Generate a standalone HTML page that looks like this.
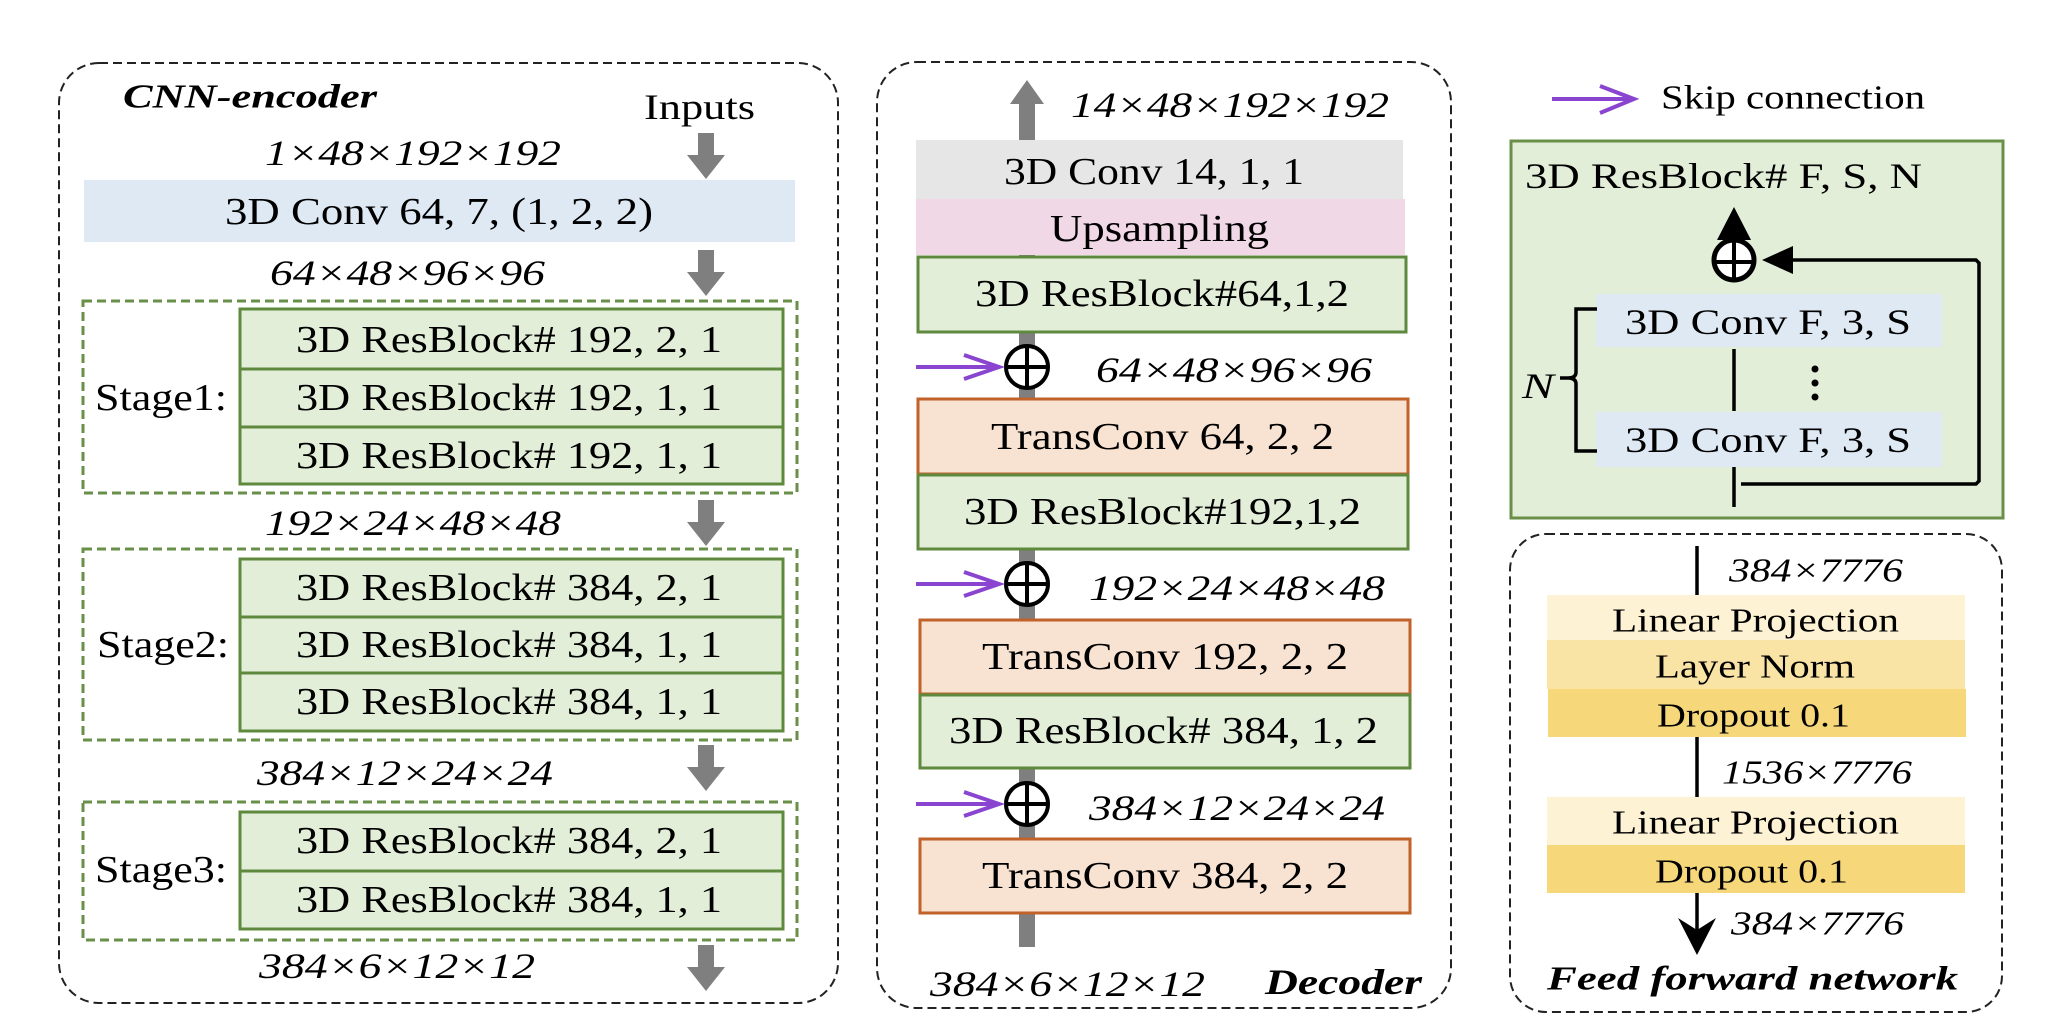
<!DOCTYPE html>
<html><head><meta charset="utf-8"><style>
html,body{margin:0;padding:0;background:#fff;}
svg{display:block;}
text{font-family:"Liberation Serif",serif;fill:#000;}
.it{font-style:italic;}
.bi{font-style:italic;font-weight:bold;}
</style></head><body>
<svg width="2070" height="1018" viewBox="0 0 2070 1018" xmlns="http://www.w3.org/2000/svg">
<defs>
<g id="garrow"><rect x="-8" y="0" width="16" height="26" fill="#7f7f7f"/><polygon points="-19,22 19,22 0,46" fill="#7f7f7f"/></g>
</defs>
<!-- ENCODER -->
<rect x="59" y="63" width="779" height="940" rx="40" fill="none" stroke="#222" stroke-width="2" stroke-dasharray="9,5"/>
<text x="123" y="97" class="bi" font-size="34" dominant-baseline="central" textLength="254" lengthAdjust="spacingAndGlyphs">CNN-encoder</text>
<text x="644" y="107" font-size="36" dominant-baseline="central" textLength="111" lengthAdjust="spacingAndGlyphs">Inputs</text>
<use href="#garrow" x="706" y="133"/>
<text x="265" y="153" class="it" font-size="36" dominant-baseline="central" textLength="296" lengthAdjust="spacingAndGlyphs">1×48×192×192</text>
<rect x="84" y="180" width="711" height="62" fill="#dfe9f4"/>
<text x="225" y="212" font-size="38" dominant-baseline="central" textLength="428" lengthAdjust="spacingAndGlyphs">3D Conv 64, 7, (1, 2, 2)</text>
<use href="#garrow" x="706" y="250"/>
<text x="270" y="273" class="it" font-size="36" dominant-baseline="central" textLength="275" lengthAdjust="spacingAndGlyphs">64×48×96×96</text>
<!-- stage1 -->
<rect x="83" y="301" width="714" height="192" fill="none" stroke="#6a8f48" stroke-width="3" stroke-dasharray="9,5"/>
<g stroke="#5f8a3e" stroke-width="3" fill="#e3eed9">
<rect x="240" y="309" width="543" height="60"/><rect x="240" y="369" width="543" height="58"/><rect x="240" y="427" width="543" height="57"/>
</g>
<text x="95" y="398" font-size="38" dominant-baseline="central" textLength="132" lengthAdjust="spacingAndGlyphs">Stage1:</text>
<text x="296" y="340" font-size="38" dominant-baseline="central" textLength="426" lengthAdjust="spacingAndGlyphs">3D ResBlock# 192, 2, 1</text>
<text x="296" y="398" font-size="38" dominant-baseline="central" textLength="426" lengthAdjust="spacingAndGlyphs">3D ResBlock# 192, 1, 1</text>
<text x="296" y="456" font-size="38" dominant-baseline="central" textLength="426" lengthAdjust="spacingAndGlyphs">3D ResBlock# 192, 1, 1</text>
<use href="#garrow" x="706" y="500"/>
<text x="265" y="523" class="it" font-size="36" dominant-baseline="central" textLength="296" lengthAdjust="spacingAndGlyphs">192×24×48×48</text>
<!-- stage2 -->
<rect x="83" y="549" width="714" height="191" fill="none" stroke="#6a8f48" stroke-width="3" stroke-dasharray="9,5"/>
<g stroke="#5f8a3e" stroke-width="3" fill="#e3eed9">
<rect x="240" y="559" width="543" height="58"/><rect x="240" y="617" width="543" height="56"/><rect x="240" y="673" width="543" height="58"/>
</g>
<text x="97" y="645" font-size="38" dominant-baseline="central" textLength="132" lengthAdjust="spacingAndGlyphs">Stage2:</text>
<text x="296" y="588" font-size="38" dominant-baseline="central" textLength="426" lengthAdjust="spacingAndGlyphs">3D ResBlock# 384, 2, 1</text>
<text x="296" y="645" font-size="38" dominant-baseline="central" textLength="426" lengthAdjust="spacingAndGlyphs">3D ResBlock# 384, 1, 1</text>
<text x="296" y="702" font-size="38" dominant-baseline="central" textLength="426" lengthAdjust="spacingAndGlyphs">3D ResBlock# 384, 1, 1</text>
<use href="#garrow" x="706" y="745"/>
<text x="257" y="773" class="it" font-size="36" dominant-baseline="central" textLength="296" lengthAdjust="spacingAndGlyphs">384×12×24×24</text>
<!-- stage3 -->
<rect x="83" y="802" width="714" height="138" fill="none" stroke="#6a8f48" stroke-width="3" stroke-dasharray="9,5"/>
<g stroke="#5f8a3e" stroke-width="3" fill="#e3eed9">
<rect x="240" y="812" width="543" height="59"/><rect x="240" y="871" width="543" height="58"/>
</g>
<text x="95" y="870" font-size="38" dominant-baseline="central" textLength="132" lengthAdjust="spacingAndGlyphs">Stage3:</text>
<text x="296" y="841" font-size="38" dominant-baseline="central" textLength="426" lengthAdjust="spacingAndGlyphs">3D ResBlock# 384, 2, 1</text>
<text x="296" y="900" font-size="38" dominant-baseline="central" textLength="426" lengthAdjust="spacingAndGlyphs">3D ResBlock# 384, 1, 1</text>
<use href="#garrow" x="706" y="945"/>
<text x="259" y="966" class="it" font-size="36" dominant-baseline="central" textLength="276" lengthAdjust="spacingAndGlyphs">384×6×12×12</text>

<!-- DECODER -->
<rect x="877" y="62" width="574" height="946" rx="40" fill="none" stroke="#222" stroke-width="2" stroke-dasharray="9,5"/>
<rect x="1019" y="100" width="16" height="847" fill="#7f7f7f"/>
<polygon points="1010,104 1044,104 1027,80" fill="#7f7f7f"/>
<text x="1071" y="105" class="it" font-size="36" dominant-baseline="central" textLength="318" lengthAdjust="spacingAndGlyphs">14×48×192×192</text>
<rect x="916" y="140" width="487" height="59" fill="#e6e6e6"/>
<text x="1004" y="172" font-size="38" dominant-baseline="central" textLength="300" lengthAdjust="spacingAndGlyphs">3D Conv 14, 1, 1</text>
<rect x="916" y="199" width="489" height="56" fill="#f0d8e6"/>
<text x="1050" y="229" font-size="38" dominant-baseline="central" textLength="219" lengthAdjust="spacingAndGlyphs">Upsampling</text>
<rect x="918" y="257" width="488" height="75" fill="#e3eed9" stroke="#5f8a3e" stroke-width="3"/>
<text x="975" y="294" font-size="38" dominant-baseline="central" textLength="374" lengthAdjust="spacingAndGlyphs">3D ResBlock#64,1,2</text>
<rect x="918" y="399" width="490" height="75" fill="#f8e3d3" stroke="#c0622a" stroke-width="3"/>
<text x="991" y="437" font-size="38" dominant-baseline="central" textLength="343" lengthAdjust="spacingAndGlyphs">TransConv 64, 2, 2</text>
<rect x="918" y="475" width="490" height="74" fill="#e3eed9" stroke="#5f8a3e" stroke-width="3"/>
<text x="964" y="512" font-size="38" dominant-baseline="central" textLength="397" lengthAdjust="spacingAndGlyphs">3D ResBlock#192,1,2</text>
<rect x="920" y="620" width="490" height="74" fill="#f8e3d3" stroke="#c0622a" stroke-width="3"/>
<text x="982" y="657" font-size="38" dominant-baseline="central" textLength="366" lengthAdjust="spacingAndGlyphs">TransConv 192, 2, 2</text>
<rect x="920" y="695" width="490" height="73" fill="#e3eed9" stroke="#5f8a3e" stroke-width="3"/>
<text x="949" y="731" font-size="38" dominant-baseline="central" textLength="429" lengthAdjust="spacingAndGlyphs">3D ResBlock# 384, 1, 2</text>
<rect x="920" y="839" width="490" height="74" fill="#f8e3d3" stroke="#c0622a" stroke-width="3"/>
<text x="982" y="876" font-size="38" dominant-baseline="central" textLength="366" lengthAdjust="spacingAndGlyphs">TransConv 384, 2, 2</text>
<!-- oplus + skip -->
<g stroke="#000" stroke-width="4" fill="#fff">
<circle cx="1027" cy="367" r="21"/><circle cx="1027" cy="584" r="21"/><circle cx="1027" cy="804" r="21"/>
</g>
<g stroke="#000" stroke-width="4">
<line x1="1006" y1="367" x2="1048" y2="367"/><line x1="1027" y1="346" x2="1027" y2="388"/>
<line x1="1006" y1="584" x2="1048" y2="584"/><line x1="1027" y1="563" x2="1027" y2="605"/>
<line x1="1006" y1="804" x2="1048" y2="804"/><line x1="1027" y1="783" x2="1027" y2="825"/>
</g>
<g stroke="#8a45d0" stroke-width="4" fill="none">
<line x1="916" y1="367" x2="998" y2="367"/><polyline points="964,355 999,367 964,379"/>
<line x1="916" y1="584" x2="998" y2="584"/><polyline points="964,572 999,584 964,596"/>
<line x1="916" y1="804" x2="998" y2="804"/><polyline points="964,792 999,804 964,816"/>
</g>
<text x="1096" y="370" class="it" font-size="36" dominant-baseline="central" textLength="276" lengthAdjust="spacingAndGlyphs">64×48×96×96</text>
<text x="1089" y="588" class="it" font-size="36" dominant-baseline="central" textLength="296" lengthAdjust="spacingAndGlyphs">192×24×48×48</text>
<text x="1089" y="808" class="it" font-size="36" dominant-baseline="central" textLength="296" lengthAdjust="spacingAndGlyphs">384×12×24×24</text>
<text x="930" y="984" class="it" font-size="36" dominant-baseline="central" textLength="275" lengthAdjust="spacingAndGlyphs">384×6×12×12</text>
<text x="1265" y="982" class="bi" font-size="36" dominant-baseline="central" textLength="157" lengthAdjust="spacingAndGlyphs">Decoder</text>

<!-- RIGHT -->
<line x1="1552" y1="99" x2="1632" y2="99" stroke="#8a45d0" stroke-width="4"/>
<polyline points="1600,86 1634,99 1600,113" stroke="#8a45d0" stroke-width="4" fill="none"/>
<text x="1661" y="98" font-size="34" dominant-baseline="central" textLength="264" lengthAdjust="spacingAndGlyphs">Skip connection</text>
<rect x="1511" y="141" width="492" height="377" fill="#e3eed9" stroke="#6a8f48" stroke-width="3"/>
<text x="1525" y="176" font-size="36" dominant-baseline="central" textLength="397" lengthAdjust="spacingAndGlyphs">3D ResBlock# F, S, N</text>
<rect x="1596" y="294" width="346" height="53" fill="#dfe9f4"/>
<rect x="1596" y="412" width="346" height="55" fill="#dfe9f4"/>
<text x="1625" y="322" font-size="36" dominant-baseline="central" textLength="286" lengthAdjust="spacingAndGlyphs">3D Conv F, 3, S</text>
<text x="1625" y="440" font-size="36" dominant-baseline="central" textLength="286" lengthAdjust="spacingAndGlyphs">3D Conv F, 3, S</text>
<g stroke="#000" stroke-width="3.5" fill="none">
<line x1="1734" y1="349" x2="1734" y2="411"/>
<line x1="1734" y1="467" x2="1734" y2="507"/>
<polyline points="1741,484 1976,484 1979,481 1979,263 1976,260 1792,260"/>
<line x1="1734" y1="281" x2="1734" y2="225"/>
<path d="M1597,309 H1576 V372 Q1576,378 1568,378 H1560 M1568,378 Q1576,378 1576,384 V451 H1597"/>
</g>
<circle cx="1734" cy="260" r="20" fill="#fff" stroke="#000" stroke-width="5"/>
<line x1="1714" y1="262" x2="1754" y2="262" stroke="#000" stroke-width="4"/>
<line x1="1734" y1="240" x2="1734" y2="280" stroke="#000" stroke-width="4"/>
<polygon points="1717,240 1751,240 1734,207" fill="#000"/>
<polygon points="1762,260 1793,246 1793,274" fill="#000"/>
<circle cx="1815" cy="369" r="3.5" fill="#000"/><circle cx="1815" cy="383" r="3.5" fill="#000"/><circle cx="1815" cy="397" r="3.5" fill="#000"/>
<text x="1522" y="386" class="it" font-size="36" dominant-baseline="central" textLength="32" lengthAdjust="spacingAndGlyphs">N</text>
<!-- FFN -->
<rect x="1510" y="534" width="492" height="478" rx="36" fill="none" stroke="#222" stroke-width="2" stroke-dasharray="9,5"/>
<line x1="1697" y1="546" x2="1697" y2="595" stroke="#000" stroke-width="3.5"/>
<text x="1729" y="571" class="it" font-size="34" dominant-baseline="central" textLength="174" lengthAdjust="spacingAndGlyphs">384×7776</text>
<rect x="1547" y="595" width="418" height="45" fill="#fdf2d3"/>
<rect x="1547" y="640" width="418" height="49" fill="#f9e3a5"/>
<rect x="1548" y="689" width="418" height="48" fill="#f6d77a"/>
<text x="1612" y="621" font-size="34" dominant-baseline="central" textLength="287" lengthAdjust="spacingAndGlyphs">Linear Projection</text>
<text x="1655" y="667" font-size="34" dominant-baseline="central" textLength="200" lengthAdjust="spacingAndGlyphs">Layer Norm</text>
<text x="1657" y="716" font-size="34" dominant-baseline="central" textLength="193" lengthAdjust="spacingAndGlyphs">Dropout 0.1</text>
<line x1="1697" y1="737" x2="1697" y2="797" stroke="#000" stroke-width="3.5"/>
<text x="1722" y="773" class="it" font-size="34" dominant-baseline="central" textLength="190" lengthAdjust="spacingAndGlyphs">1536×7776</text>
<rect x="1547" y="797" width="418" height="48" fill="#fdf2d3"/>
<rect x="1547" y="845" width="418" height="48" fill="#f6d77a"/>
<text x="1612" y="823" font-size="34" dominant-baseline="central" textLength="287" lengthAdjust="spacingAndGlyphs">Linear Projection</text>
<text x="1655" y="872" font-size="34" dominant-baseline="central" textLength="193" lengthAdjust="spacingAndGlyphs">Dropout 0.1</text>
<line x1="1697" y1="893" x2="1697" y2="940" stroke="#000" stroke-width="3.5"/>
<polygon points="1678,918 1697,930 1716,918 1697,955" fill="#000"/>
<text x="1731" y="924" class="it" font-size="34" dominant-baseline="central" textLength="173" lengthAdjust="spacingAndGlyphs">384×7776</text>
<text x="1547" y="979" class="bi" font-size="34" dominant-baseline="central" textLength="411" lengthAdjust="spacingAndGlyphs">Feed forward network</text>
</svg>
</body></html>
